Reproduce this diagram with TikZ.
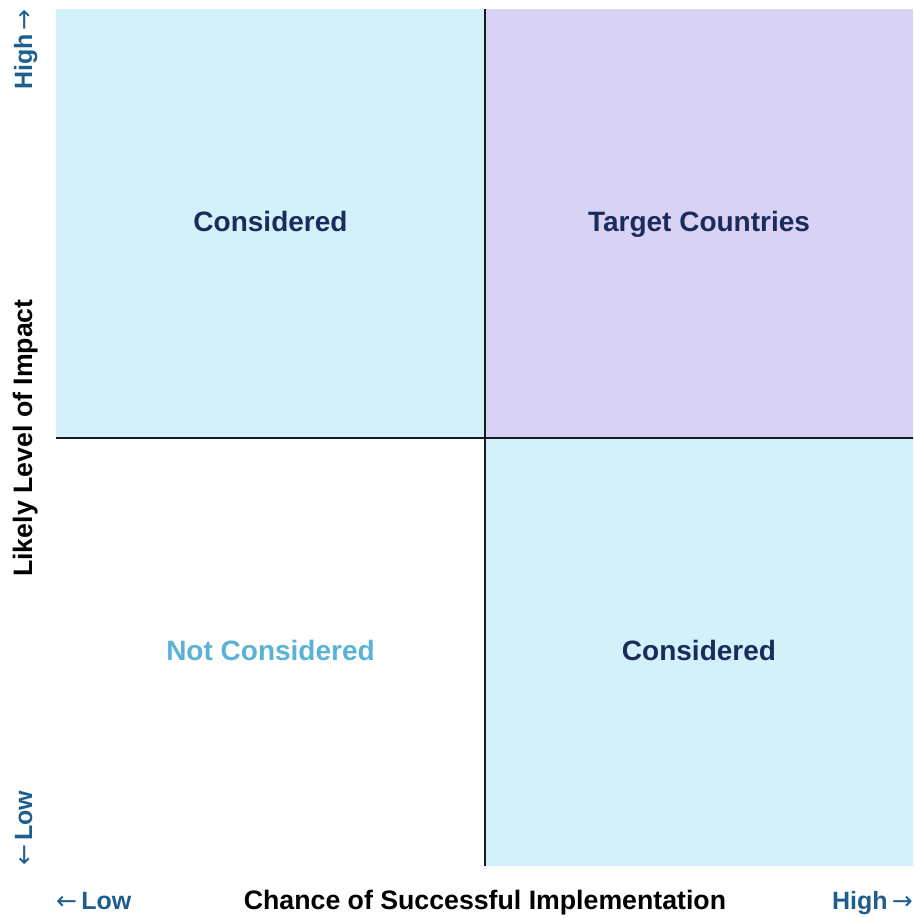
\documentclass[tikz,border=0pt]{standalone}
\usepackage{fontspec}
\setmainfont{Liberation Sans}
\newfontfamily\arrowfont{DejaVu Sans}
\newcommand{\rarr}{{\arrowfont\mdseries →}}
\newcommand{\larr}{{\arrowfont\mdseries ←}}
\definecolor{cyanfill}{HTML}{D2F1FA}
\definecolor{purplefill}{HTML}{D8D3F5}
\definecolor{navytext}{HTML}{1A2B5C}
\definecolor{lightbluetext}{HTML}{5AB2D4}
\definecolor{axisblue}{HTML}{1E5E8E}
\definecolor{gridline}{HTML}{141A1E}
\begin{document}
\begin{tikzpicture}[x=1pt,y=-1pt,
  quadlabel/.style={font=\fontsize{28}{32}\selectfont\bfseries, text=navytext, inner sep=0pt, anchor=base},
  axistitle/.style={font=\fontsize{26.7}{30}\selectfont\bfseries, text=black, inner sep=0pt},
  axisend/.style={font=\fontsize{25}{29}\selectfont\bfseries, text=axisblue, inner sep=0pt},
  divider/.style={draw=gridline, line width=1.5pt}]
\useasboundingbox (0,0) rectangle (913,918);
% quadrants
\fill[cyanfill] (56,9) rectangle (485,438);
\fill[purplefill] (485,9) rectangle (913,438);
\fill[cyanfill] (485,438) rectangle (913,866);
% dividers
\coordinate (vtop) at (485,9);
\coordinate (vbot) at (485,866);
\coordinate (hleft) at (56,438);
\coordinate (hright) at (913,438);
\draw[divider] (vtop) -- (vbot);
\draw[divider] (hleft) -- (hright);
% quadrant labels
\node[quadlabel] (tl) at (270.5,231) {Considered};
\node[quadlabel] (tr) at (699,231) {Target Countries};
\node[quadlabel, text=lightbluetext] (bl) at (270.5,660) {Not Considered};
\node[quadlabel] (br) at (699,660) {Considered};
% axis titles
\node[axistitle, anchor=base] (xtitle) at (485,909) {Chance of Successful Implementation};
\node[axistitle, rotate=90, anchor=base] (ytitle) at (32,438) {Likely Level of Impact};
% axis ends
\node[axisend, anchor=base west] (xlow) at (56,909) {\larr\,Low};
\node[axisend, anchor=base east] (xhigh) at (913,909) {High\,\rarr};
\node[axisend, rotate=90, anchor=base east] (yhigh) at (32,9) {High\,\rarr};
\node[axisend, rotate=90, anchor=base west] (ylow) at (32,866) {\larr\,Low};
\end{tikzpicture}
\end{document}
